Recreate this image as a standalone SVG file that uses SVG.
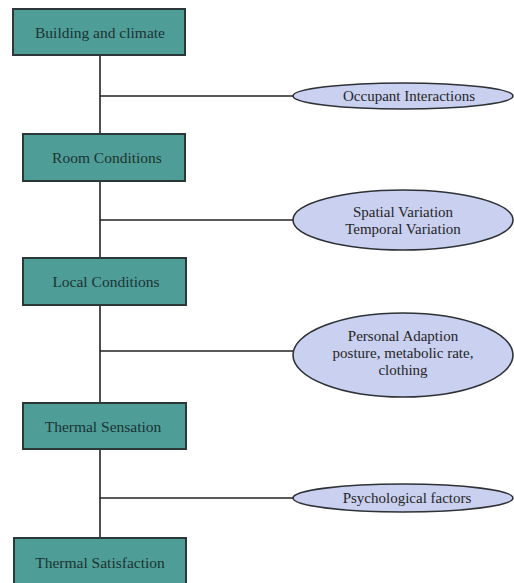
<svg xmlns="http://www.w3.org/2000/svg" width="514" height="583" viewBox="0 0 514 583">
  <style>
    .box { fill: #4f9d97; stroke: #2b3838; stroke-width: 2; }
    .oval { fill: #c9d0f0; stroke: #2e3236; stroke-width: 1.6; }
    .line { stroke: #222; stroke-width: 1.6; fill: none; }
    .bt { font-family: "Liberation Serif", "Times New Roman", serif; font-size: 15.5px; fill: #1c3333; text-anchor: middle; dominant-baseline: central; }
    .et { font-family: "Liberation Serif", "Times New Roman", serif; font-size: 15px; fill: #262626; text-anchor: middle; dominant-baseline: central; }
  </style>
  <rect width="514" height="583" fill="#ffffff"/>

  <!-- connectors: spine and side branches -->
  <g id="connectors">
    <line class="line" x1="100" y1="55" x2="100" y2="538"/>
    <line class="line" x1="100" y1="96" x2="294" y2="96"/>
    <line class="line" x1="100" y1="220" x2="293" y2="220"/>
    <line class="line" x1="100" y1="351" x2="293" y2="351"/>
    <line class="line" x1="100" y1="498" x2="294" y2="498"/>
  </g>

  <!-- main chain -->
  <g id="building-climate">
    <rect class="box" x="13" y="9" width="172" height="46"/>
    <text class="bt" x="100" y="32">Building and climate</text>
  </g>
  <g id="room-conditions">
    <rect class="box" x="23" y="134" width="162" height="47"/>
    <text class="bt" x="107" y="157">Room Conditions</text>
  </g>
  <g id="local-conditions">
    <rect class="box" x="23" y="258" width="163" height="47"/>
    <text class="bt" x="106" y="281">Local Conditions</text>
  </g>
  <g id="thermal-sensation">
    <rect class="box" x="23" y="403" width="163" height="46"/>
    <text class="bt" x="103" y="426">Thermal Sensation</text>
  </g>
  <g id="thermal-satisfaction">
    <rect class="box" x="14" y="538" width="172" height="47"/>
    <text class="bt" x="100" y="562">Thermal Satisfaction</text>
  </g>

  <!-- influencing factors -->
  <g id="occupant-interactions">
    <ellipse class="oval" cx="403" cy="96" rx="110" ry="13"/>
    <text class="et" x="409" y="96">Occupant Interactions</text>
  </g>
  <g id="variation">
    <ellipse class="oval" cx="403" cy="220" rx="110" ry="30"/>
    <text class="et" x="403" y="212">Spatial Variation</text>
    <text class="et" x="403" y="229">Temporal Variation</text>
  </g>
  <g id="personal-adaption">
    <ellipse class="oval" cx="403" cy="355" rx="110" ry="42"/>
    <text class="et" x="403" y="336">Personal Adaption</text>
    <text class="et" x="403" y="353">posture, metabolic rate,</text>
    <text class="et" x="403" y="370">clothing</text>
  </g>
  <g id="psychological-factors">
    <ellipse class="oval" cx="403" cy="498" rx="110" ry="14"/>
    <text class="et" x="407" y="498">Psychological factors</text>
  </g>
</svg>
